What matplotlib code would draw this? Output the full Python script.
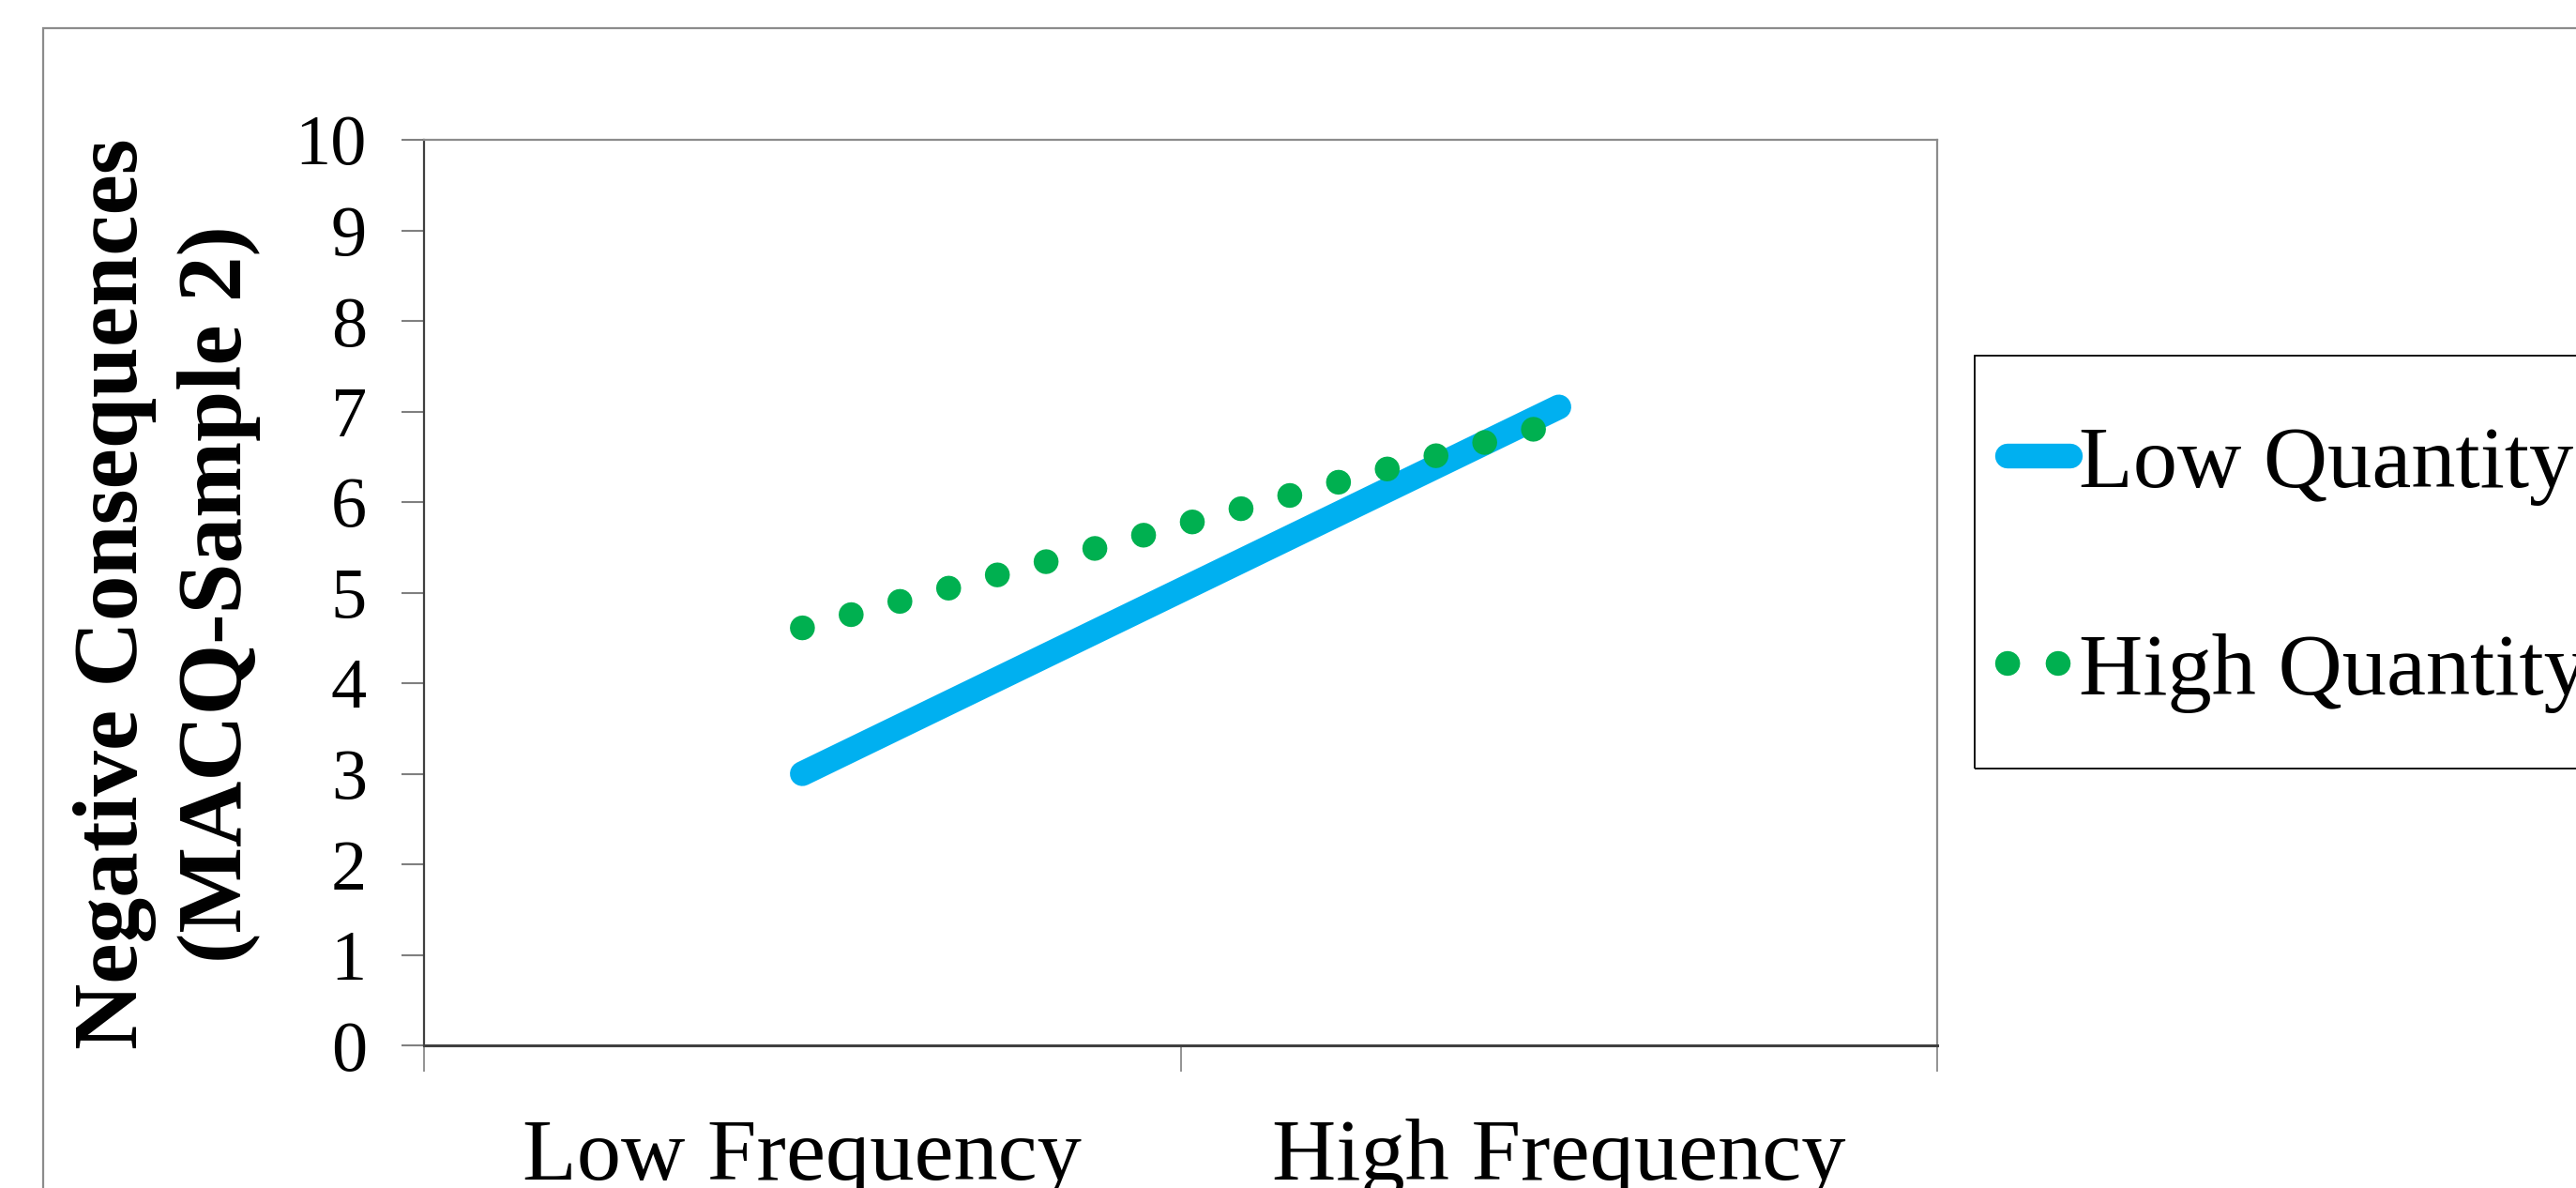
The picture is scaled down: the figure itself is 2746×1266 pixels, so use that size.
import matplotlib
matplotlib.use("Agg")
import matplotlib.pyplot as plt
from matplotlib.patches import Rectangle

# Data
categories = ["Low Frequency", "High Frequency"]
low_quantity = [3.0, 7.05]
high_quantity = [4.61, 6.88]
series_names = ["Low Quantity", "High Quantity"]
y_ticks = list(range(0, 11))

plt.rcParams['font.family'] = ['Liberation Serif', 'DejaVu Serif']

W, H = 2746, 1266
fig = plt.figure(figsize=(W / 100, H / 100), dpi=100)
fig.patch.set_facecolor('white')

# outer chart border (runs off the right and bottom edges)
fig.patches.append(Rectangle((46 / W, -0.1), 1.2, 1.1 - 30 / H, transform=fig.transFigure,
                             fill=False, edgecolor='#8c8c8c', linewidth=1.6))

ax = fig.add_axes([452 / W, 1 - 1114 / H, (2065 - 452) / W, (1114 - 149) / H])

x_pos = [0.5, 1.5]
ax.plot(x_pos, low_quantity, color='#00B0F0', lw=19, solid_capstyle='round',
        label=series_names[0], zorder=3)
ax.plot(x_pos, high_quantity, color='#00B050', lw=19, linestyle=(0, (0.01, 2.03)),
        dash_capstyle='round', label=series_names[1], zorder=4)

ax.set_xlim(0, 2)
ax.set_ylim(0, 10)
ax.set_yticks(y_ticks)
ax.set_xticks([0, 1, 2])
ax.set_xticklabels([])
ax.set_xticks(x_pos, minor=True)
ax.set_xticklabels(categories, minor=True, fontsize=68)
ax.tick_params(axis='x', which='major', direction='out', length=20, width=1.2, color='#808080')
ax.tick_params(axis='x', which='minor', length=0, pad=56)
ax.tick_params(axis='y', direction='out', length=17, width=1.5, color='#808080',
               labelsize=55, pad=27)

for side in ['top', 'right']:
    ax.spines[side].set_color('#8c8c8c')
    ax.spines[side].set_linewidth(1.6)
ax.spines['left'].set_color('#404040')
ax.spines['left'].set_linewidth(1.6)
ax.spines['bottom'].set_color('#404040')
ax.spines['bottom'].set_linewidth(2.2)

# y label, two bold lines
fig.text(146 / W, 1 - 633 / H, "Negative Consequences", rotation=90, rotation_mode='anchor',
         ha='center', va='baseline', fontsize=70, fontweight='bold')
fig.text(257 / W, 1 - 633 / H, "(MACQ-Sample 2)", rotation=90, rotation_mode='anchor',
         ha='center', va='baseline', fontsize=70, fontweight='bold')

# legend frame and entries
fig.patches.append(Rectangle((2105 / W, 1 - 819 / H), 0.3, (819 - 379) / H,
                             transform=fig.transFigure, fill=False,
                             edgecolor='black', linewidth=1.3))
leg = ax.legend(loc='upper left', bbox_to_anchor=(2140 / W, 1 - 453 / H),
                bbox_transform=fig.transFigure, frameon=False, fontsize=68,
                handlelength=0.71, handletextpad=0.1, labelspacing=1.43,
                borderpad=0, borderaxespad=0)

fig.savefig("out.png", dpi=100, facecolor='white')
